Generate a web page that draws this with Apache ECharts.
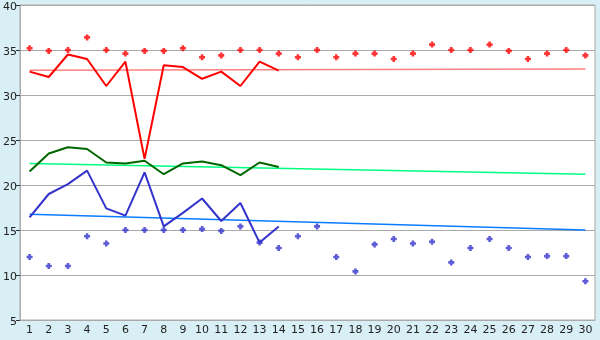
<!DOCTYPE html>
<html><head><meta charset="utf-8">
<script src="https://cdn.jsdelivr.net/npm/echarts@6/dist/echarts.min.js"></script>
<style>html,body{margin:0;padding:0;background:#d9eff6;}#c{width:600px;height:340px;}</style>
</head><body><div id="c"></div>
<script>
var days = ['1','2','3','4','5','6','7','8','9','10','11','12','13','14','15','16','17','18','19','20','21','22','23','24','25','26','27','28','29','30'];
var yTicks = [5, 40, 5]; // min, max, interval
var maxDots = [35.2,34.9,35.0,36.4,35.0,34.6,34.9,34.9,35.2,34.2,34.4,35.0,35.0,34.6,34.2,35.0,34.2,34.6,34.6,34.0,34.6,35.6,35.0,35.0,35.6,34.9,34.0,34.6,35.0,34.4];
var minDots = [12.0,11.0,11.0,14.3,13.5,15.0,15.0,15.0,15.0,15.1,14.9,15.4,13.6,13.0,14.3,15.4,12.0,10.4,13.4,14.0,13.5,13.7,11.4,13.0,14.0,13.0,12.0,12.1,12.1,9.3];
var maxLine = [32.6,32.0,34.5,34.0,31.0,33.7,22.9,33.3,33.1,31.8,32.6,31.0,33.7,32.7];
var avgLine = [21.5,23.5,24.2,24.0,22.5,22.4,22.7,21.2,22.4,22.6,22.2,21.1,22.5,22.0];
var minLine = [16.4,19.0,20.1,21.6,17.4,16.6,21.4,15.4,16.9,18.5,16.0,18.0,13.6,15.4];
var maxTrend = [32.75, 32.88];
var avgTrend = [22.4, 21.2];
var minTrend = [16.75, 15.0];

var chart = echarts.init(document.getElementById('c'), null, {renderer:'canvas'});
var plus = 'path://M2,0H5V2H7V5H5V7H2V5H0V2H2Z';
function trend(t, color){
  return {type:'line', data:[[0,t[0]],[days.length-1,t[1]]], symbol:'none', silent:true,
    lineStyle:{color:color, width:1.5}, z:2};
}
function line(d, color){
  return {type:'line', data:d, symbol:'none', lineStyle:{color:color, width:2}, z:4};
}
chart.setOption({
  animation:false,
  backgroundColor:'#d9eff6',
  grid:{left:20, right:5, top:5, bottom:20, show:true, backgroundColor:'#ffffff', borderColor:'#aaaaaa', borderWidth:1},
  xAxis:{type:'category', data:days, boundaryGap:true,
    axisLine:{lineStyle:{color:'#aaaaaa'}},
    axisTick:{alignWithLabel:true, length:5, lineStyle:{color:'#333'}},
    axisLabel:{color:'#222', fontFamily:'DejaVu Sans', fontSize:11, margin:5, interval:0},
    splitLine:{show:false}},
  yAxis:{type:'value', min:yTicks[0], max:yTicks[1], interval:yTicks[2],
    axisLine:{show:true, lineStyle:{color:'#aaaaaa'}},
    axisTick:{show:true, length:4, lineStyle:{color:'#333'}},
    axisLabel:{color:'#222', fontFamily:'DejaVu Sans', fontSize:11, margin:3,
      formatter:'{a|{value}}', rich:{a:{color:'#222', fontFamily:'DejaVu Sans', fontSize:11, padding:[4,0,0,0]}}},
    splitLine:{lineStyle:{color:'#aaaaaa', width:1}}},
  series:[
    {type:'scatter', data:maxDots, symbol:plus, symbolSize:6, itemStyle:{color:'#ff0000'}, z:3},
    {type:'scatter', data:minDots, symbol:plus, symbolSize:6, itemStyle:{color:'#3333cc'}, z:3},
    trend(maxTrend, '#ff8080'),
    trend(avgTrend, '#00ff80'),
    trend(minTrend, '#0a7cff'),
    line(maxLine, '#ff0000'),
    line(avgLine, '#006600'),
    line(minLine, '#3333cc')
  ]
});
</script></body></html>
